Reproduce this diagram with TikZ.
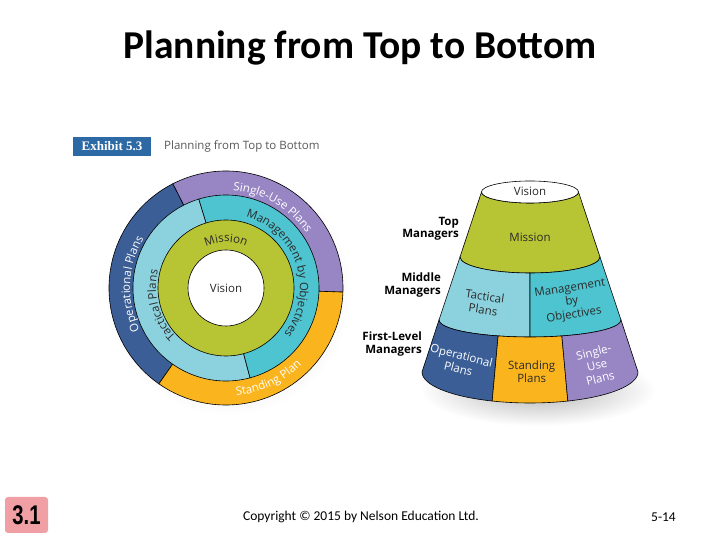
\documentclass[tikz,border=0pt]{standalone}
\usepackage{fontspec}
\setmainfont{Open Sans}
\newfontfamily\calibrifont{Carlito}
\newfontfamily\arialfont{Liberation Sans}
\newfontfamily\timesfont{Liberation Serif}
\usetikzlibrary{calc,decorations.text}
\definecolor{opblue}{HTML}{3B5E96}
\definecolor{supurple}{HTML}{9886C4}
\definecolor{storange}{HTML}{FAB41E}
\definecolor{tacblue}{HTML}{8CD2DE}
\definecolor{mboteal}{HTML}{4EC4D0}
\definecolor{misolive}{HTML}{B7C434}
\definecolor{exblue}{HTML}{2D69A5}
\definecolor{slidepink}{HTML}{F0A0A5}
\definecolor{txtdark}{HTML}{2A2A2A}
\begin{document}
\begin{tikzpicture}[x=1pt,y=1pt,
  seg/.style={draw=black, line width=0.6pt},
  mgrlbl/.style={font=\fontsize{11.5}{12.5}\selectfont\bfseries, align=right, anchor=east, text=black, inner sep=0},
  conetxt/.style={font=\fontsize{11.5}{13.5}\selectfont, align=center, text=txtdark, inner sep=0}]
\useasboundingbox (0,0) rectangle (720,540);
\fill[white] (0,0) rectangle (720,540);

% ---- title ----
\node[font=\calibrifont\bfseries\fontsize{39.5}{42}\selectfont, anchor=base, inner sep=0] (title) at (360,481.7) {Planning from Top to Bottom};

% ---- exhibit header ----
\node[fill=exblue, minimum width=78, minimum height=19, inner sep=0, text=white,
      font=\timesfont\bfseries\fontsize{13}{14}\selectfont] (exh) at (112,393.5) {Exhibit 5.3};
\node[anchor=west, text=black!65, inner sep=0, font=\fontsize{11.5}{13}\selectfont] (exhsub) at (164,393.5) {Planning from Top to Bottom};

% ---- circle diagram ----
\coordinate (C) at (226,252);
\shade[inner color=black!25, outer color=white] (228,249) circle[radius=124];
\draw[seg, fill=opblue]   (C) -- ++(117:117) arc[start angle=117, end angle=235, radius=117] -- cycle;
\draw[seg, fill=supurple] (C) -- ++(-2:117) arc[start angle=-2, end angle=117, radius=117] -- cycle;
\draw[seg, fill=storange] (C) -- ++(235:117) arc[start angle=235, end angle=358, radius=117] -- cycle;
\draw[seg, fill=tacblue]  (C) -- ++(107:93) arc[start angle=107, end angle=285, radius=93] -- cycle;
\draw[seg, fill=mboteal]  (C) -- ++(-75:93) arc[start angle=-75, end angle=107, radius=93] -- cycle;
\draw[seg, fill=misolive] (C) circle[radius=68];
\draw[seg, fill=white]    (C) circle[radius=38];
\node[font=\fontsize{11.5}{13}\selectfont, text=txtdark] (cvision) at (C) {Vision};

\path[decorate, decoration={text along path, text align=center,
  text={|\fontsize{11.5}{12}\selectfont\color{txtdark}|Mission}}]
  ($(C)+(125:46)$) arc[start angle=125, end angle=55, radius=46];
\path[decorate, decoration={text along path, text align=center,
  text={|\fontsize{11.5}{12}\selectfont\color{white}|Single-Use Plans}}]
  ($(C)+(110:97.5)$) arc[start angle=110, end angle=10, radius=97.5];
\path[decorate, decoration={text along path, text align=center,
  text={|\fontsize{11.5}{12}\selectfont\color{txtdark}|Management by Objectives}}]
  ($(C)+(88:74)$) arc[start angle=88, end angle=-52, radius=74];
\path[decorate, decoration={text along path, text align=center,
  text={|\fontsize{11.5}{12}\selectfont\color{white}|Operational Plans}}]
  ($(C)+(222:96)$) arc[start angle=222, end angle=133, radius=96];
\path[decorate, decoration={text along path, text align=center,
  text={|\fontsize{11.5}{12}\selectfont\color{txtdark}|Tactical Plans}}]
  ($(C)+(252:70)$) arc[start angle=252, end angle=138, radius=70];
\path[decorate, decoration={text along path, text align=center,
  text={|\fontsize{11.5}{12}\selectfont\color{white}|Standing Plan}}]
  ($(C)+(250:108)$) arc[start angle=250, end angle=340, radius=108];

% ---- cone ----
\shade[inner color=black!30, outer color=white] (538,150) ellipse[x radius=118, y radius=36];
% mission band
\draw[seg, fill=misolive] (481.5,348) -- (460,283) arc[start angle=180, end angle=360, x radius=70, y radius=16]
   -- (578.5,348) arc[start angle=0, end angle=-180, x radius=48.5, y radius=11] -- cycle;
% vision top
\draw[seg, fill=white] (530,348) ellipse[x radius=48.5, y radius=11];
% middle band
\draw[seg, fill=tacblue] (460,283) -- (439,220) arc[start angle=180, end angle=270, x radius=91, y radius=17]
   -- (530,267) arc[start angle=270, end angle=180, x radius=70, y radius=16] -- cycle;
\draw[seg, fill=mboteal] (530,203) arc[start angle=270, end angle=360, x radius=91, y radius=17]
   -- (600,283) arc[start angle=360, end angle=270, x radius=70, y radius=16] -- cycle;
% bottom band
\coordinate (u1) at ($(530,220)+(249.5:91 and 17)$);
\coordinate (u2) at ($(530,220)+(290.5:91 and 17)$);
\draw[seg, fill=opblue] (439,220) -- (422,168) arc[start angle=180, end angle=249.5, x radius=108, y radius=31]
   -- (u1) arc[start angle=249.5, end angle=180, x radius=91, y radius=17] -- cycle;
\draw[seg, fill=storange] ($(530,168)+(249.5:108 and 31)$) arc[start angle=249.5, end angle=290.5, x radius=108, y radius=31]
   -- (u2) arc[start angle=290.5, end angle=249.5, x radius=91, y radius=17] -- cycle;
\draw[seg, fill=supurple] ($(530,168)+(290.5:108 and 31)$) arc[start angle=290.5, end angle=360, x radius=108, y radius=31]
   -- (621,220) arc[start angle=360, end angle=290.5, x radius=91, y radius=17] -- cycle;

% cone texts
\node[conetxt] (kvision) at (530,349) {Vision};
\node[conetxt] (kmission) at (530,303) {Mission};
\node[conetxt, rotate=-8] (ktact) at (484,237) {Tactical\\Plans};
\node[conetxt, rotate=9] (kmbo) at (572,238) {Management\\by\\Objectives};
\node[conetxt, rotate=-14, text=white] (kop) at (460,178) {Operational\\Plans};
\node[conetxt] (kstand) at (531.7,168.3) {Standing\\Plans};
\node[conetxt, rotate=14, text=white] (ksu) at (597,175) {Single-\\Use\\Plans};

% manager labels
\node[mgrlbl] (ltop) at (459,311) {Top\\Managers};
\node[mgrlbl] (lmid) at (441,255) {Middle\\Managers};
\node[mgrlbl] (lfirst) at (422,196) {First-Level\\Managers};

% ---- footer ----
\node[fill=slidepink, rounded corners=3, minimum width=43, minimum height=36, inner sep=0,
      font=\arialfont\bfseries\fontsize{27}{27}\selectfont] (slideno) at (26.5,25) {\scalebox{0.75}[1]{3.1}};
\node[font=\calibrifont\fontsize{13.5}{15}\selectfont, inner sep=0] (copy) at (361,23) {Copyright \textcopyright{} 2015 by Nelson Education Ltd.};
\node[font=\calibrifont\fontsize{13.5}{15}\selectfont, inner sep=0] (pageno) at (663.5,23) {5-14};
\end{tikzpicture}
\end{document}
